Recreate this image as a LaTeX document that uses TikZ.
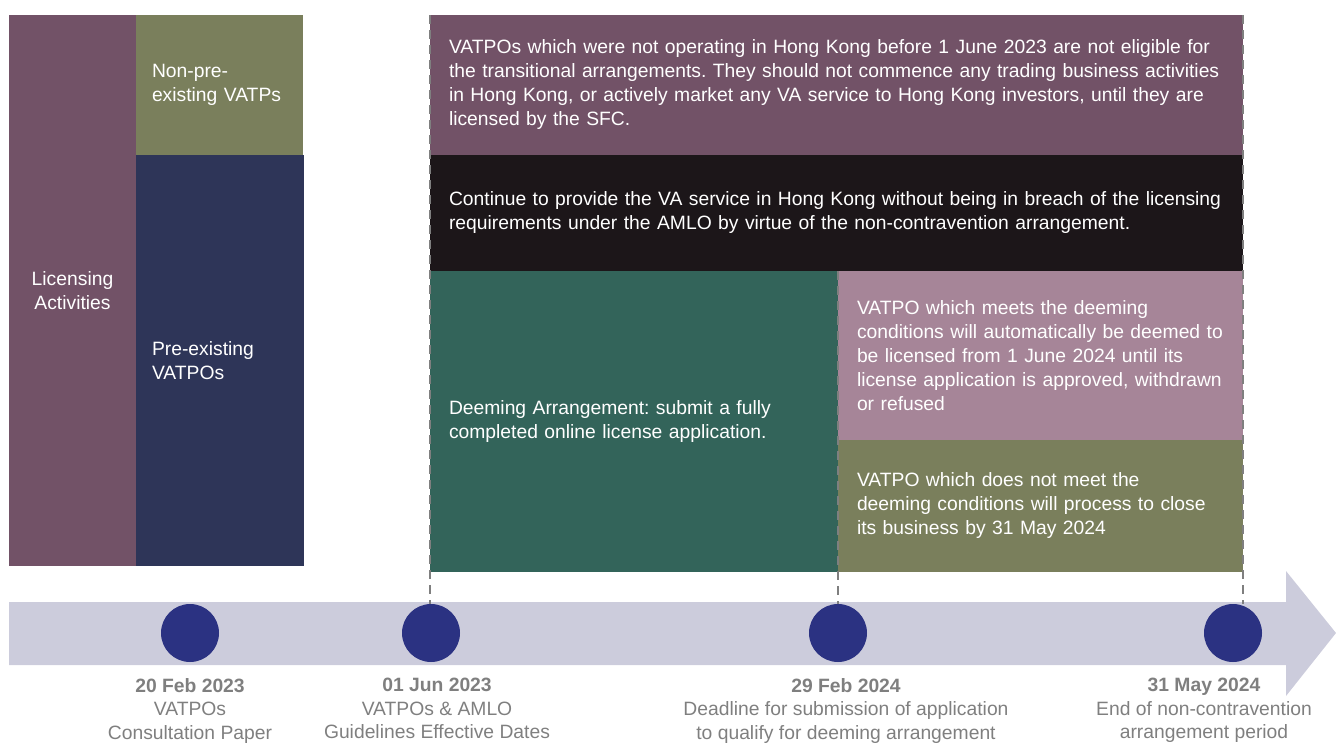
\documentclass[tikz,border=0pt]{standalone}
\usepackage{fontspec}
\setmainfont{Liberation Sans}
\usetikzlibrary{positioning,calc}
\frenchspacing

\definecolor{plum}{HTML}{725267}
\definecolor{moss}{HTML}{7A7F5C}
\definecolor{ink}{HTML}{2E3558}
\definecolor{coal}{HTML}{1C1619}
\definecolor{pine}{HTML}{33645A}
\definecolor{mauve}{HTML}{A68598}
\definecolor{haze}{HTML}{CCCCDC}
\definecolor{dotblue}{HTML}{2B3282}
\definecolor{labelgrey}{HTML}{7F7F7F}

\begin{document}
\begin{tikzpicture}[
  x=1pt, y=-1pt,
  font=\fontsize{19.3}{24}\selectfont,
  block/.style={anchor=north west,inner xsep=19pt,inner ysep=0pt,outer sep=0pt,
    text=white,align=left},
  dot/.style={circle,fill=dotblue,minimum size=58pt,inner sep=0pt},
  when/.style={align=center,inner sep=0pt,text=labelgrey,
    font=\fontsize{19.3}{23.5}\selectfont},
  guide/.style={labelgrey,line width=1.3pt,dash pattern=on 9pt off 6pt}]

  \useasboundingbox (0,0) rectangle (1336,742);

  % left column
  \node[block,fill=plum,text width=99pt,inner xsep=14pt,align=center,minimum height=551pt]
    (lic) at (9,15) {Licensing\\Activities};
  \node[block,fill=moss,text width=135pt,minimum height=140pt,inner xsep=16pt]
    (nonpre) at (lic.north east) {Non-pre-\\existing VATPs};
  \node[block,fill=ink,text width=136pt,minimum height=411pt,inner xsep=16pt]
    (pre) at (nonpre.south west) {Pre-existing\\VATPOs};

  % arrangements
  \node[block,fill=plum,text width=775pt,minimum height=140pt]
    (ineligible) at (430,15) {VATPOs which were not operating in Hong Kong before 1 June 2023 are not eligible for\\
      the transitional arrangements. They should not commence any trading business activities\\
      in Hong Kong, or actively market any VA service to Hong Kong investors, until they are\\
      licensed by the SFC.};
  \node[block,fill=coal,text width=775pt,minimum height=116pt]
    (continue) at (ineligible.south west) {Continue to provide the VA service in Hong Kong without being in breach of the licensing\\
      requirements under the AMLO by virtue of the non-contravention arrangement.};
  \node[block,fill=pine,text width=370pt,minimum height=301pt]
    (deem) at (continue.south west) {Deeming Arrangement: submit a fully\\completed online license application.};
  \node[block,fill=mauve,text width=367pt,minimum height=169pt]
    (meets) at (deem.north east) {VATPO which meets the deeming\\conditions will automatically be deemed to\\
      be licensed from 1 June 2024 until its\\license application is approved, withdrawn\\or refused};
  \node[block,fill=moss,text width=367pt,minimum height=132pt]
    (notmeet) at (meets.south west) {VATPO which does not meet the\\deeming conditions will process to close\\
      its business by 31 May 2024};

  % timeline
  \fill[haze] (9,602) -- (1286,602) -- (1286,571) -- (1336,633)
    -- (1286,696) -- (1286,665) -- (9,665) -- cycle;

  \node[dot] (d1) at (190,633) {};
  \node[dot] (d2) at (431,633) {};
  \node[dot] (d3) at (838,633) {};
  \node[dot] (d4) at (1233,633) {};

  \draw[guide] (ineligible.north west) -- (ineligible.north west |- d2.north);
  \draw[guide] (meets.north west) -- (meets.north west |- d3.north);
  \draw[guide] (ineligible.north east) -- (ineligible.north east |- d4.north);

  \node[when,below=16pt of d1] (t1) {\textbf{20 Feb 2023}\\VATPOs\\Consultation Paper};
  \node[when,below=16pt of d2,xshift=6pt] (t2) {\textbf{01 Jun 2023}\\VATPOs \& AMLO\\Guidelines Effective Dates};
  \node[when,below=16pt of d3,xshift=8pt] (t3) {\textbf{29 Feb 2024}\\Deadline for submission of application\\to qualify for deeming arrangement};
  \node[when,below=16pt of d4,xshift=-29pt] (t4) {\textbf{31 May 2024}\\End of non-contravention\\arrangement period};

\end{tikzpicture}
\end{document}
